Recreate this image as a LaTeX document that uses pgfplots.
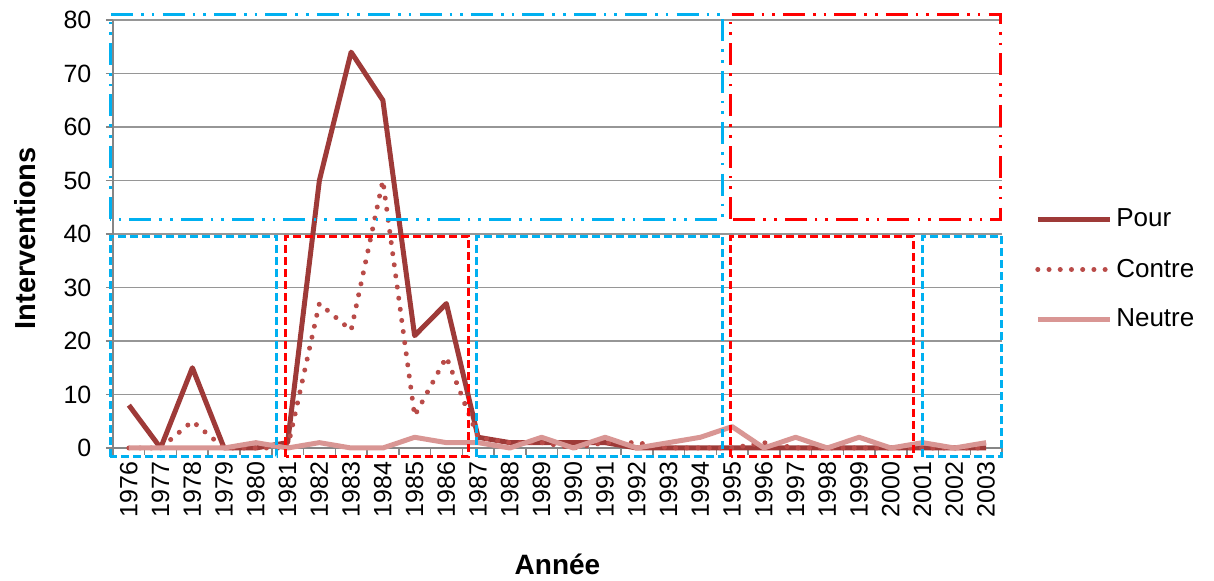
\documentclass[border=0pt]{standalone}
\usepackage{fontspec}
\setmainfont{Liberation Sans}
\usepackage{pgfplots}
\pgfplotsset{compat=1.18}
\definecolor{pour}{RGB}{158,58,56}
\definecolor{contre}{RGB}{185,75,72}
\definecolor{neutre}{RGB}{217,150,148}
\definecolor{gridgray}{RGB}{150,150,150}
\definecolor{axisgray}{RGB}{134,134,134}
\definecolor{boxblue}{RGB}{0,176,240}
\definecolor{boxred}{RGB}{255,0,0}
\tikzset{
  dashbox/.style={line width=1.5pt, dash pattern=on 4pt off 2pt},
  ddbox/.style={line width=1.5pt, dash pattern=on 11pt off 4pt on 1.3pt off 4pt on 1.3pt off 4.1pt},
}
\begin{document}
\begin{tikzpicture}
\begin{axis}[
  scale only axis, width=444.5pt, height=214pt,
  xmin=-0.5, xmax=27.5, ymin=0, ymax=80,
  clip=false,
  axis x line*=bottom, axis y line*=left,
  axis line style={draw=axisgray, line width=0.75pt},
  xtick={0,...,27},
  xticklabels={1976,1977,1978,1979,1980,1981,1982,1983,1984,1985,1986,1987,1988,1989,1990,1991,1992,1993,1994,1995,1996,1997,1998,1999,2000,2001,2002,2003},
  minor xtick={-0.5,0.5,...,27.5},
  ytick={0,10,...,80},
  minor ytick={0,10,...,80},
  major tick length=0pt, minor tick length=3.5pt,
  tick align=outside,
  tick style={draw=axisgray, line width=0.75pt},
  ymajorgrids, major grid style={draw=gridgray, line width=0.75pt},
  /pgf/number format/assume math mode=true,
  tick label style={font=\fontsize{12.5}{14}\selectfont, text=black},
  xticklabel style={rotate=90, anchor=east},
  xticklabel shift=3.5pt,
  yticklabel style={xshift=-7.3pt},
  xlabel={Année}, ylabel={Interventions},
  every axis x label/.style={at={(axis description cs:0.5,-0.273)}, anchor=center, font=\fontsize{14}{16}\selectfont\bfseries},
  every axis y label/.style={at={(axis description cs:-0.099,0.49)}, rotate=90, anchor=center, font=\fontsize{14.5}{16}\selectfont\bfseries},
  legend style={draw=none, fill=none, at={(1.037,0.417)}, anchor=west,
    font=\fontsize{13}{15}\selectfont, row sep=10.5pt, inner sep=0pt},
  legend cell align=left,
  legend image code/.code={\draw[#1] (0pt,0pt) -- (36pt,0pt);},
]
\coordinate (O) at (rel axis cs:0,0);
\addplot[pour, line width=2.5pt, line join=round] coordinates {
(0,8)(1,0)(2,15)(3,0)(4,0)(5,1)(6,50)(7,74)(8,65)(9,21)(10,27)(11,2)(12,1)(13,1)
(14,1)(15,1)(16,0)(17,0)(18,0)(19,0)(20,0)(21,0)(22,0)(23,0)(24,0)(25,0)(26,0)(27,0)};
\addlegendentry{Pour}
\addplot[contre, line width=2.5pt, line cap=round, dash pattern=on 0.01pt off 5.6pt] coordinates {
(0,0)(1,0)(2,5)(3,0)(4,0)(5,0)(6,27)(7,22)(8,50)(9,6)(10,17)(11,2)(12,1)(13,1)
(14,0)(15,1)(16,1)(17,0)(18,0)(19,0)(20,1)(21,0)(22,0)(23,0)(24,0)(25,0)(26,0)(27,0)};
\addlegendentry{Contre}
\addplot[neutre, line width=2.5pt, line join=round] coordinates {
(0,0)(1,0)(2,0)(3,0)(4,1)(5,0)(6,1)(7,0)(8,0)(9,2)(10,1)(11,1)(12,0)(13,2)
(14,0)(15,2)(16,0)(17,1)(18,2)(19,4)(20,0)(21,2)(22,0)(23,2)(24,0)(25,1)(26,0)(27,1)};
\addlegendentry{Neutre}
% annotation boxes
\draw[boxblue, dashbox] (axis cs:-0.58,-1.65) rectangle (axis cs:4.66,39.6);
\draw[boxred, dashbox] (axis cs:4.94,-1.65) rectangle (axis cs:10.71,39.6);
\draw[boxblue, dashbox] (axis cs:10.96,-1.65) rectangle (axis cs:18.71,39.6);
\draw[boxred, dashbox] (axis cs:18.96,-1.65) rectangle (axis cs:24.71,39.6);
\draw[boxblue, dashbox] (axis cs:24.99,-1.65) rectangle (axis cs:27.48,39.6);
\draw[boxblue, ddbox] (axis cs:-0.58,42.8) rectangle (axis cs:18.70,81.1);
\draw[boxred, ddbox] (axis cs:18.96,42.8) rectangle (axis cs:27.46,81.1);
\end{axis}
\pgfresetboundingbox
\path (O) ++(-56.5pt,-66.5pt) rectangle ++(607pt,290.5pt);
\end{tikzpicture}
\end{document}
